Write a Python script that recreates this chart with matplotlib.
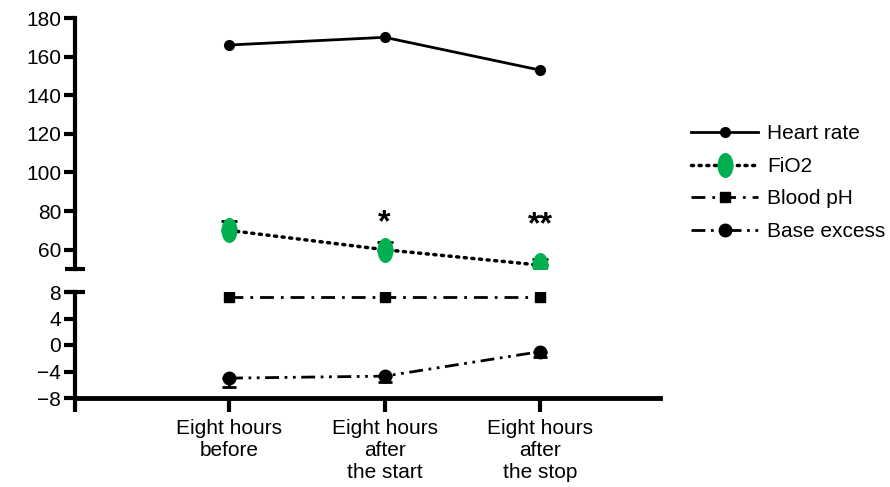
import numpy as np
import matplotlib
matplotlib.use('Agg')
import matplotlib.pyplot as plt
from matplotlib.path import Path
from matplotlib.transforms import Affine2D

plt.rcParams['font.family'] = ['Liberation Sans', 'DejaVu Sans']

# ------------------------------------------------------------------
# Data
# ------------------------------------------------------------------
timepoints = ['Eight hours\nbefore', 'Eight hours\nafter\nthe start', 'Eight hours\nafter\nthe stop']
heart_rate = [166, 170, 153]
fio2 = [70, 60, 52]
fio2_err = [5, 4, 3]
blood_ph = [7.3, 7.3, 7.3]
base_excess = [-5.0, -4.7, -1.0]
base_excess_err = [1.3, 0.9, 0.8]
star_labels = ['', '*', '**']
star_y = [0, 66, 65]

x = np.arange(len(timepoints))
green = '#00b050'
ellipse = Path.unit_circle().transformed(Affine2D().scale(0.62, 1.0))
fs = 15

fig = plt.figure(figsize=(8.9, 4.87), dpi=100)
ax_top = fig.add_axes([75/890, 1-269/487, 585/890, 251/487])
ax_bot = fig.add_axes([75/890, 1-398/487, 585/890, 106/487])

for ax in (ax_top, ax_bot):
    ax.set_xlim(-0.99, 2.77)
    for s in ('top', 'right'):
        ax.spines[s].set_visible(False)
    ax.spines['left'].set_linewidth(3)
    ax.tick_params(axis='y', direction='out', length=8, width=3, labelsize=fs, pad=2)

# top axes
ax_top.spines['bottom'].set_visible(False)
ax_top.set_ylim(50, 180)
ax_top.set_yticks(range(60, 181, 20))
ax_top.set_xticks([])
ax_top.plot([-0.017, 0.017], [0, 0], transform=ax_top.transAxes, color='black',
            lw=3, clip_on=False, solid_capstyle='butt')

# bottom axes
ax_bot.set_ylim(-8, 8)
ax_bot.set_yticks([-8, -4, 0, 4, 8])
ax_bot.spines['bottom'].set_linewidth(3.5)
ax_bot.set_xticks(list(x) + [-0.99])
ax_bot.set_xticklabels(timepoints + [''], fontsize=fs, linespacing=1.2)
ax_bot.tick_params(axis='x', direction='out', length=10, width=3, pad=5)
ax_bot.plot([-0.017, 0.017], [1, 1], transform=ax_bot.transAxes, color='black',
            lw=3, clip_on=False, solid_capstyle='butt')

# series
h1, = ax_top.plot(x, heart_rate, '-', color='black', lw=2, marker='o', ms=7,
                  label='Heart rate')
ax_top.errorbar(x, fio2, yerr=[np.zeros(3), fio2_err], fmt='none', ecolor='black',
                elinewidth=2, capsize=6, capthick=2)
h2, = ax_top.plot(x, fio2, linestyle=(0, (0.6, 1.6)), color='black', lw=2.5,
                  marker=ellipse, ms=17, mfc=green, mec=green, label='FiO2',
                  dash_capstyle='round')
for xi, lab, yi in zip(x, star_labels, star_y):
    if lab:
        ax_top.text(xi, yi, lab, ha='center', va='bottom', fontsize=23, fontweight='bold')

h3, = ax_bot.plot(x, blood_ph, linestyle=(0, (5, 2.5, 1, 2.5)), color='black', lw=2,
                  marker='s', ms=6.5, label='Blood pH')
ax_bot.errorbar(x, base_excess, yerr=[base_excess_err, np.zeros(3)], fmt='none',
                ecolor='black', elinewidth=2, capsize=5, capthick=2)
h4, = ax_bot.plot(x, base_excess, linestyle=(0, (5, 2, 1, 2, 1, 2)), color='black', lw=2,
                  marker='o', ms=9, label='Base excess')

fig.legend(handles=[h1, h2, h3, h4], loc='upper left', bbox_to_anchor=(683/890, 1-116/487),
           frameon=False, fontsize=fs, handlelength=3.2, handletextpad=0.45,
           labelspacing=0.65, borderaxespad=0)

fig.savefig('out.png', dpi=100)
